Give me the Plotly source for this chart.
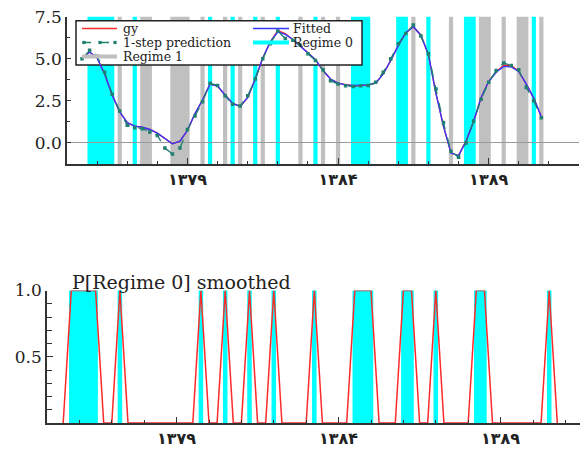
import numpy as np
import plotly.graph_objects as go

# The page body adds an 8px margin, so the figure is 8px smaller than the window
# and all reference pixel positions are shifted by that margin.
WIN_W, WIN_H = 588, 449
OFF = 8
W, H = WIN_W - OFF, WIN_H - OFF

# ---------------- data (quarterly, 1375(3) .. 1390(4)) ----------------
start_year = 1375.5
quarters_per_year = 4

gy = [5.00, 5.40, 5.05, 4.10, 2.85, 1.85, 1.20, 1.00, 0.93, 0.80,
      0.58, 0.25, -0.05, 0.10, 0.75, 1.75, 2.55, 3.50, 3.38, 2.85,
      2.35, 2.17, 2.70, 3.80, 5.05, 6.00, 6.68, 6.50, 6.15, 5.75,
      5.35, 4.95, 4.30, 3.80, 3.55, 3.45, 3.38, 3.40, 3.45, 3.55,
      4.10, 4.90, 5.80, 6.55, 6.90, 6.40, 5.25, 2.95, 1.00, -0.60,
      -0.75, 0.12, 1.28, 2.70, 3.65, 4.22, 4.62, 4.60, 4.25, 3.50,
      2.65, 1.55]

fitted = [5.00, 5.40, 5.05, 4.10, 2.85, 1.85, 1.20, 1.00, 0.93, 0.80,
          0.58, 0.25, -0.05, 0.10, 0.75, 1.75, 2.55, 3.50, 3.38, 2.85,
          2.35, 2.17, 2.70, 3.80, 5.05, 6.00, 6.60, 6.45, 6.15, 5.75,
          5.35, 4.95, 4.30, 3.80, 3.55, 3.45, 3.42, 3.42, 3.45, 3.55,
          4.10, 4.90, 5.80, 6.55, 6.90, 6.40, 5.25, 2.95, 1.00, -0.60,
          -0.75, 0.10, 1.28, 2.70, 3.65, 4.20, 4.55, 4.52, 4.25, 3.50,
          2.65, 1.55]

prediction = [5.00, 5.50, 5.15, 4.20, 2.90, 1.90, 1.05, 0.90, 0.85, 0.65,
              0.45, -0.30, -0.65, -0.30, 0.80, 1.60, 2.45, 3.55, 3.42, 2.80,
              2.30, 2.20, 2.80, 3.80, 5.00, 5.90, 6.65, 6.20, 6.10, 5.80,
              5.30, 4.90, 4.35, 3.70, 3.50, 3.40, 3.35, 3.40, 3.42, 3.60,
              4.20, 5.00, 5.90, 6.50, 7.00, 6.35, 5.30, 3.20, 1.20, -0.50,
              -0.85, 0.00, 1.30, 2.60, 3.60, 4.30, 4.75, 4.60, 4.35, 3.30,
              2.50, 1.50]

# smoothed regime probabilities (regime 0 is also drawn in the lower panel)
p_regime0 = [0, 1, 1, 1, 1, 0, 0, 1, 0, 0,
             0, 0, 0, 0, 0, 0, 0, 1, 0, 0,
             1, 0, 0, 1, 0, 0, 1, 0, 0, 0,
             0, 1, 0, 0, 0, 0, 1, 1, 1, 0,
             0, 0, 1, 1, 0, 0, 1, 0, 0, 0,
             0, 1, 1, 0, 0, 0, 0, 0, 0, 0,
             1, 0]
p_regime1 = [0, 0, 0, 0, 0, 1, 0, 0, 1, 1,
             0, 0, 1, 1, 1, 0, 1, 0, 0, 1,
             0, 1, 0, 0, 1, 0, 0, 0, 0, 1,
             0, 0, 1, 0, 1, 0, 0, 0, 0, 0,
             0, 0, 0, 0, 1, 0, 0, 0, 0, 1,
             0, 0, 0, 1, 1, 0, 1, 0, 1, 1,
             0, 1]

tick_years = [1379, 1384, 1389]
tick_labels = ["\u06f1\u06f3\u06f7\u06f9", "\u06f1\u06f3\u06f8\u06f4", "\u06f1\u06f3\u06f8\u06f9"]

t = start_year + np.arange(len(gy)) / quarters_per_year

# ---------------- styling ----------------
CYAN = "#00ffff"
GREY = "#c0c0c0"
RED = "#ff2a2a"
BLUE = "#3535ff"
TEAL = "#1f7f70"
AX = "#333333"
TXT = "#222222"
SERIF = "DejaVu Serif"


def px_x(p):
    return (p - OFF) / W


def px_y(p):
    return 1 - (p - OFF) / H


def runs(flags, half=0.07):
    out = []
    i, n = 0, len(flags)
    while i < n:
        if flags[i] > 0.5:
            j = i
            while j + 1 < n and flags[j + 1] > 0.5:
                j += 1
            out.append((t[i] - half, t[j] + half))
            i = j + 1
        else:
            i += 1
    return out


fig = go.Figure()

fig.add_trace(go.Scatter(x=t, y=gy, name="gy", mode="lines",
                         line=dict(color=RED, width=1.4), xaxis="x", yaxis="y"))
fig.add_trace(go.Scatter(x=t, y=fitted, name="Fitted", mode="lines",
                         line=dict(color=BLUE, width=1.4), xaxis="x", yaxis="y"))
fig.add_trace(go.Scatter(x=t, y=prediction, name="1-step prediction", mode="lines+markers",
                         line=dict(color=TEAL, width=1.3, dash="dash"),
                         marker=dict(symbol="square", size=3.5, color=TEAL),
                         xaxis="x", yaxis="y"))
fig.add_trace(go.Scatter(x=t, y=p_regime0, name="P[Regime 0] smoothed", mode="lines",
                         line=dict(color=RED, width=1.5), xaxis="x2", yaxis="y2"))

shapes = []
for x0, x1 in runs(p_regime0):
    shapes.append(dict(type="rect", xref="x", yref="y domain", x0=x0, x1=x1, y0=0, y1=1,
                       fillcolor=CYAN, line=dict(width=0), layer="below"))
for x0, x1 in runs(p_regime1):
    shapes.append(dict(type="rect", xref="x", yref="y domain", x0=x0, x1=x1, y0=0, y1=1,
                       fillcolor=GREY, line=dict(width=0), layer="below"))
for x0, x1 in runs(p_regime0):
    shapes.append(dict(type="rect", xref="x2", yref="y2 domain", x0=x0, x1=x1, y0=0, y1=1,
                       fillcolor=CYAN, line=dict(width=0), layer="below"))

# legend box (top panel), drawn over the bands but below the curves
top_l, top_r, top_t, top_b = 67, 579, 16.7, 164


def dom_x(p):
    return (p - top_l) / (top_r - top_l)


def dom_y(p):
    return (top_b - p) / (top_b - top_t)


rows = [28.5, 42.5, 56.5]
shapes.append(dict(type="rect", xref="x domain", yref="y domain",
                   x0=dom_x(76), x1=dom_x(362), y0=dom_y(65), y1=dom_y(20.7),
                   fillcolor="white", line=dict(color="#222222", width=1.5), layer="below"))

c1_x0, c1_x1, c1_tx = 82, 117, 122
c2_x0, c2_x1, c2_tx = 253, 289, 292
legend_items = [
    ("gy", c1_x0, c1_x1, c1_tx, rows[0], dict(color=RED, width=1.5)),
    ("Fitted", c2_x0, c2_x1, c2_tx, rows[0], dict(color=BLUE, width=1.5)),
    ("1-step prediction", c1_x0, c1_x1, c1_tx, rows[1], dict(color=TEAL, width=1.4, dash="dash")),
    ("Regime 0", c2_x0, c2_x1, c2_tx, rows[1], dict(color=CYAN, width=4)),
    ("Regime 1", c1_x0, c1_x1, c1_tx, rows[2], dict(color=GREY, width=4)),
]
annotations = []
for name, a, b, tx, ry, ln in legend_items:
    shapes.append(dict(type="line", xref="paper", yref="paper",
                       x0=px_x(a), x1=px_x(b), y0=px_y(ry), y1=px_y(ry),
                       line=ln, layer="above"))
    annotations.append(dict(text=name, xref="paper", yref="paper", x=px_x(tx), y=px_y(ry),
                            xanchor="left", yanchor="middle", showarrow=False, borderpad=0,
                            font=dict(family=SERIF, size=12.5, color=TXT)))
for sx in (84, 100, 115):
    shapes.append(dict(type="rect", xref="paper", yref="paper",
                       x0=px_x(sx - 1.6), x1=px_x(sx + 1.6),
                       y0=px_y(rows[1] + 1.6), y1=px_y(rows[1] - 1.6),
                       fillcolor=TEAL, line=dict(width=0), layer="above"))

annotations.append(dict(text="P[Regime 0] smoothed", xref="paper", yref="paper",
                        x=px_x(71), y=px_y(282), xanchor="left", yanchor="middle",
                        showarrow=False, borderpad=0,
                        font=dict(family=SERIF, size=19, color=TXT)))

xtickfont = dict(family="DejaVu Sans", size=16, color=TXT, weight="bold")
ytickfont = dict(family=SERIF, size=17, color=TXT)

common_x = dict(tickmode="array", tickvals=tick_years, ticktext=tick_labels,
                ticks="inside", ticklen=6, tickwidth=1.3, tickcolor=AX,
                showline=True, linecolor=AX, linewidth=1.5,
                showgrid=False, zeroline=False, tickfont=xtickfont,
                minor=dict(tickmode="linear", tick0=1375, dtick=1, ticks="inside",
                           ticklen=3, tickwidth=1.2, tickcolor=AX))

fig.update_layout(
    width=W, height=H,
    margin=dict(l=0, r=0, t=0, b=0, autoexpand=False),
    paper_bgcolor="white", plot_bgcolor="white",
    showlegend=False,
    xaxis=dict(domain=[px_x(67), px_x(579)], range=[1375, 1392], anchor="y",
               automargin=False, ticklabelstandoff=0, ticklabeloverflow="allow", **common_x),
    yaxis=dict(domain=[px_y(164), px_y(16.7)], range=[-1.25, 7.5], anchor="x",
               tickmode="array", tickvals=[0, 2.5, 5, 7.5],
               ticktext=["0.0", "2.5", "5.0", "7.5"],
               ticks="inside", ticklen=4, tickwidth=1.2, tickcolor=AX,
               showline=True, linecolor=AX, linewidth=1.5, showgrid=False,
               zeroline=True, zerolinecolor="#9a9a9a", zerolinewidth=1,
               tickfont=ytickfont, automargin=False, ticklabeloverflow="allow",
               minor=dict(tickmode="linear", tick0=0, dtick=1.25, ticks="inside",
                          ticklen=3, tickwidth=1.1, tickcolor=AX)),
    xaxis2=dict(domain=[px_x(47), 1.0], range=[1375, 1375 + (WIN_W - 47) / 32.4], anchor="y2",
                automargin=False, ticklabelstandoff=0, ticklabeloverflow="allow", **common_x),
    yaxis2=dict(domain=[px_y(423), px_y(290.5)], range=[0, 1.0], anchor="x2",
                tickmode="array", tickvals=[0.5, 1.0], ticktext=["0.5", "1.0"],
                ticks="inside", ticklen=6, tickwidth=1.2, tickcolor=AX,
                showline=True, linecolor=AX, linewidth=1.5, showgrid=False,
                zeroline=False, tickfont=ytickfont, automargin=False, ticklabeloverflow="allow",
                minor=dict(tickmode="linear", tick0=0, dtick=0.1, ticks="inside",
                           ticklen=5, tickwidth=1.1, tickcolor=AX)),
    shapes=shapes,
    annotations=annotations,
)

fig.write_html("out.html")
